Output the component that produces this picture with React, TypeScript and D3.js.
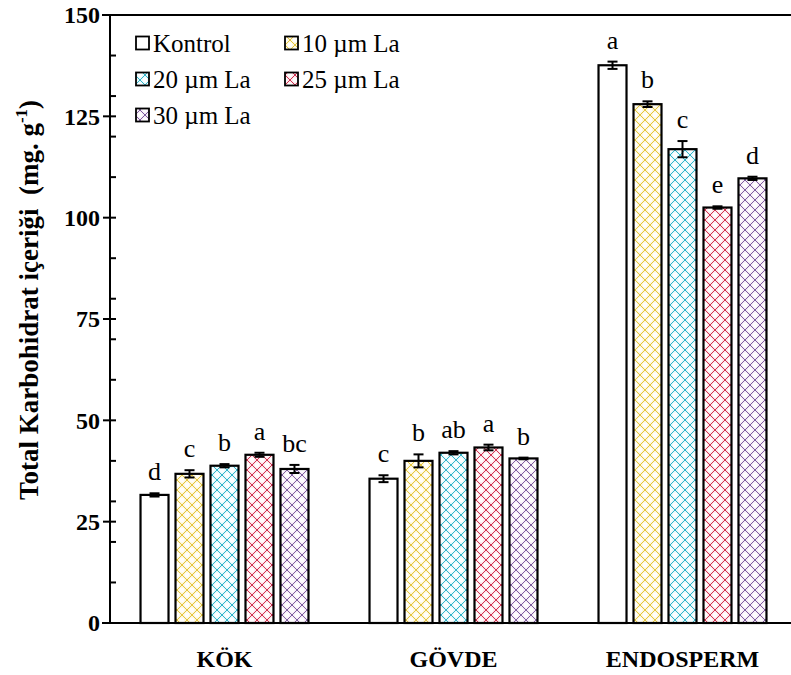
import React from "react";
import * as d3 from "d3";

const groups = ["KÖK", "GÖVDE", "ENDOSPERM"];
const seriesNames = ["Kontrol", "10 µm La", "20 µm La", "25 µm La", "30 µm La"];
const kontrolValues = [31.6, 35.6, 137.6];
const la10Values = [36.8, 40.0, 128.0];
const la20Values = [38.8, 42.0, 116.9];
const la25Values = [41.5, 43.3, 102.5];
const la30Values = [38.0, 40.6, 109.7];
const kontrolErr = [0.4, 0.85, 0.9];
const la10Err = [0.9, 1.6, 0.7];
const la20Err = [0.4, 0.4, 2.0];
const la25Err = [0.5, 0.7, 0.3];
const la30Err = [1.0, 0.2, 0.4];
const kontrolLetters = ["d", "c", "a"];
const la10Letters = ["c", "b", "b"];
const la20Letters = ["b", "ab", "c"];
const la25Letters = ["a", "a", "e"];
const la30Letters = ["bc", "b", "d"];
const yMajorTicks = [0, 25, 50, 75, 100, 125, 150];
const yMinorTicks = [10, 20, 30, 40, 60, 70, 80, 90, 110, 120, 130, 140];

const values = [kontrolValues, la10Values, la20Values, la25Values, la30Values];
const errs = [kontrolErr, la10Err, la20Err, la25Err, la30Err];
const letters = [kontrolLetters, la10Letters, la20Letters, la25Letters, la30Letters];

const styles = [
  { bg: "#ffffff", line: null },
  { bg: "#fdf7dc", line: "#e4c43c" },
  { bg: "#e6f9fc", line: "#2fb2c8" },
  { bg: "#fce6ea", line: "#d0304f" },
  { bg: "#f7edf7", line: "#7c5c9e" },
];

const W = 791;
const H = 675;
const serif = "'Liberation Serif', 'DejaVu Serif', 'Times New Roman', Times, serif";

export default function App() {
  const x0 = d3
    .scaleBand<string>()
    .domain(groups)
    .range([110, 797])
    .paddingInner(0.236)
    .paddingOuter(0.118);
  const x1 = d3
    .scaleBand<string>()
    .domain(seriesNames)
    .range([0, x0.bandwidth()])
    .paddingInner(0.2)
    .paddingOuter(0.1);
  const y = d3.scaleLinear().domain([0, 150]).range([623, 15]);

  const fillFor = (i: number) => (styles[i].line ? `url(#pat${i})` : styles[i].bg);
  const ts = { fontFamily: serif };

  return (
    <svg
      width={W}
      height={H}
      style={{ position: "absolute", left: 0, top: 0, background: "#fff", fontFamily: serif }}
    >
      <defs>
        {styles.map((s, i) =>
          s.line ? (
            <pattern
              key={i}
              id={`pat${i}`}
              width={10}
              height={10}
              patternUnits="userSpaceOnUse"
            >
              <rect width={10} height={10} fill={s.bg} />
              <line x1={0} y1={0} x2={10} y2={10} stroke={s.line} strokeWidth={1} />
              <line x1={10} y1={0} x2={0} y2={10} stroke={s.line} strokeWidth={1} />
              <circle cx={5} cy={0} r={2.4} fill="#fff" opacity={0.9} />
              <circle cx={0} cy={5} r={2.4} fill="#fff" opacity={0.9} />
              <circle cx={10} cy={5} r={2.4} fill="#fff" opacity={0.9} />
              <circle cx={5} cy={10} r={2.4} fill="#fff" opacity={0.9} />
            </pattern>
          ) : null
        )}
      </defs>

      {/* frame lines */}
      <line x1={102} x2={W} y1={15} y2={15} stroke="#000" strokeWidth={2} />
      <line x1={102} x2={W} y1={623} y2={623} stroke="#000" strokeWidth={2} />
      <line x1={110} x2={110} y1={15} y2={623} stroke="#000" strokeWidth={2} />

      {/* y ticks */}
      {yMajorTicks.map((t) => (
        <g key={t}>
          <line x1={103} x2={116} y1={y(t)} y2={y(t)} stroke="#000" strokeWidth={2} />
          <text
            x={100}
            y={y(t)}
            dy="0.35em"
            textAnchor="end"
            fontWeight="bold"
            fontSize={24}
            style={ts}
          >
            {t}
          </text>
        </g>
      ))}
      {yMinorTicks.map((t) => (
        <line key={t} x1={110} x2={116} y1={y(t)} y2={y(t)} stroke="#000" strokeWidth={2} />
      ))}

      {/* y title */}
      <text
        transform={`translate(38,300) rotate(-90)`}
        textAnchor="middle"
        fontWeight="bold"
        fontSize={27}
        style={{ whiteSpace: "pre", fontFamily: serif }}
      >
        <tspan>Total Karbohidrat içeriği  (mg. g</tspan>
        <tspan fontSize={17} dy={-11}>-1</tspan>
        <tspan dy={11}>)</tspan>
      </text>

      {/* bars */}
      {groups.map((g, gi) => (
        <g key={g} transform={`translate(${x0(g)},0)`}>
          {seriesNames.map((s, si) => {
            const v = values[si][gi];
            const e = errs[si][gi];
            const bx = x1(s)!;
            const bw = x1.bandwidth();
            const cx = bx + bw / 2;
            return (
              <g key={s}>
                <rect
                  x={bx}
                  y={y(v)}
                  width={bw}
                  height={y(0) - y(v)}
                  fill={fillFor(si)}
                  stroke="#000"
                  strokeWidth={2.2}
                />
                <line x1={cx} x2={cx} y1={y(v - e)} y2={y(v + e)} stroke="#000" strokeWidth={2} />
                <line x1={cx - 5} x2={cx + 5} y1={y(v + e)} y2={y(v + e)} stroke="#000" strokeWidth={2} />
                <line x1={cx - 5} x2={cx + 5} y1={y(v - e)} y2={y(v - e)} stroke="#000" strokeWidth={2} />
                <text x={cx} y={y(v + e) - 13} textAnchor="middle" fontSize={26} style={ts}>
                  {letters[si][gi]}
                </text>
              </g>
            );
          })}
          <text
            x={x0.bandwidth() / 2}
            y={667}
            textAnchor="middle"
            fontWeight="bold"
            fontSize={24}
            style={ts}
          >
            {g}
          </text>
        </g>
      ))}

      {/* legend */}
      {seriesNames.map((s, i) => {
        const col = i % 2;
        const row = Math.floor(i / 2);
        const lx = col === 0 ? 136 : 285;
        const ly = 43 + row * 36;
        return (
          <g key={s}>
            <rect
              x={lx}
              y={ly - 6.5}
              width={13}
              height={13}
              fill={fillFor(i)}
              stroke="#000"
              strokeWidth={1.8}
            />
            <text x={lx + 17} y={ly} dy="0.35em" fontSize={25} style={ts}>
              {s}
            </text>
          </g>
        );
      })}
    </svg>
  );
}
